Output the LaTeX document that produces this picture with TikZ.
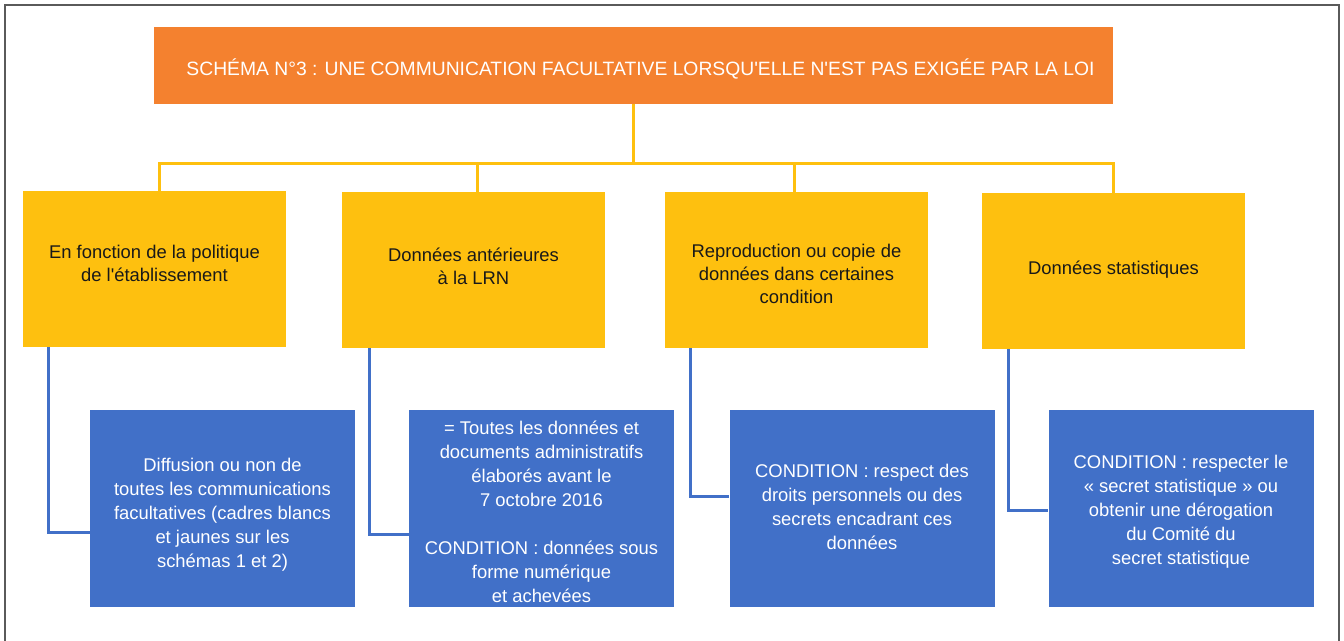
\documentclass[tikz,border=0pt]{standalone}
\usepackage{fontspec}
\setmainfont{Liberation Sans}[Ligatures=TeXOff]
\usepackage{tikz}

\definecolor{titleorange}{HTML}{F4812F}
\definecolor{boxyellow}{HTML}{FEC00F}
\definecolor{boxblue}{HTML}{4170C8}
\definecolor{framegray}{HTML}{5A5A5A}

\tikzset{
  titlebox/.style={fill=titleorange, minimum width=959pt, minimum height=77pt, inner sep=0pt},
  titletext/.style={text=white, inner sep=0pt, font=\fontsize{19.3}{23}\selectfont},
  casebox/.style={fill=boxyellow, minimum width=263pt, minimum height=156pt, inner sep=0pt},
  casetext/.style={text=black!90, inner sep=0pt, align=center, font=\fontsize{18.4}{23}\selectfont},
  condbox/.style={fill=boxblue, minimum width=265pt, minimum height=197pt, inner sep=0pt},
  condtext/.style={text=white, inner sep=0pt, align=center, font=\fontsize{18.4}{24}\selectfont},
  ylink/.style={draw=boxyellow, line width=3pt},
  blink/.style={draw=boxblue, line width=3pt}
}

\begin{document}
\begin{tikzpicture}[x=1pt, y=-1pt]
            \useasboundingbox (0,0) rectangle (1344,640);
            \draw[framegray, line width=1.5pt] (5,641) -- (5,5) -- (1339,5) -- (1339,641);
            % title
            \node[titlebox] (title) at (633.5,65.5) {};
            \node[titletext] (titletxt) at ([xshift=7pt,yshift=-3pt]title.center) {SCHÉMA N°3 : UNE COMMUNICATION FACULTATIVE LORSQU'ELLE N'EST PAS EXIGÉE PAR LA LOI};
            % yellow boxes
            \node[casebox] (pol) at (154.5,269) {};
            \node[casebox] (ant) at (473.5,270) {};
            \node[casebox] (rep) at (796.5,270) {};
            \node[casebox] (stat) at (1113.5,271) {};
            \node[casetext] (poltxt) at ([yshift=6pt]pol.center) {En fonction de la politique\\de l'établissement};
            \node[casetext] (anttxt) at ([yshift=4pt]ant.center) {Données antérieures\\à la LRN};
            \node[casetext] (reptxt) at ([yshift=-4pt]rep.center) {Reproduction ou copie de\\données dans certaines\\condition};
            \node[casetext] (stattxt) at ([yshift=1pt]stat.center) {Données statistiques};
            % blue boxes
            \node[condbox] (polc) at (222.5,508) {};
            \node[condbox] (antc) at (541.5,508.5) {};
            \node[condbox] (repc) at (862,508.5) {};
            \node[condbox] (statc) at (1181,508) {};
            \node[condtext] (polctxt) at ([yshift=-7pt]polc.center) {Diffusion ou non de\\toutes les communications\\facultatives (cadres blancs\\et jaunes sur les\\schémas 1 et 2)};
            \node[condtext] (antctxt) at ([yshift=-3pt]antc.center) {= Toutes les données et\\documents administratifs\\élaborés avant le\\7 octobre 2016\\[24pt]CONDITION : données sous\\forme numérique\\et achevées};
            \node[condtext] (repctxt) at ([yshift=2pt]repc.center) {CONDITION : respect des\\droits personnels ou des\\secrets encadrant ces\\données};
            \node[condtext] (statctxt) at ([yshift=-4pt]statc.center) {CONDITION : respecter le\\«~secret statistique~» ou\\obtenir une dérogation\\du Comité du\\secret statistique};
            % yellow tree
            \coordinate (bus) at (0,163);
            \draw[ylink] (title.south) -- (title.south |- bus);
            \draw[ylink] ([xshift=4.5pt]pol.north) -- ([xshift=4.5pt]pol.north |- bus) -- (stat.north |- bus) -- (stat.north);
            \draw[ylink] ([xshift=3.5pt]ant.north) -- ([xshift=3.5pt]ant.north |- bus);
            \draw[ylink] ([xshift=-2.5pt]rep.north) -- ([xshift=-2.5pt]rep.north |- bus);
            % blue links
            \draw[blink] ([xshift=26pt]pol.south west) |- ([yshift=-24pt]polc.west);
            \draw[blink] ([xshift=28pt]ant.south west) |- ([yshift=-26pt]antc.west);
            \draw[blink] ([xshift=26pt]rep.south west) |- ([yshift=12pt]repc.west);
            \draw[blink] ([xshift=27pt]stat.south west) |- ([yshift=-2pt]statc.west);
        \end{tikzpicture}
\end{document}
